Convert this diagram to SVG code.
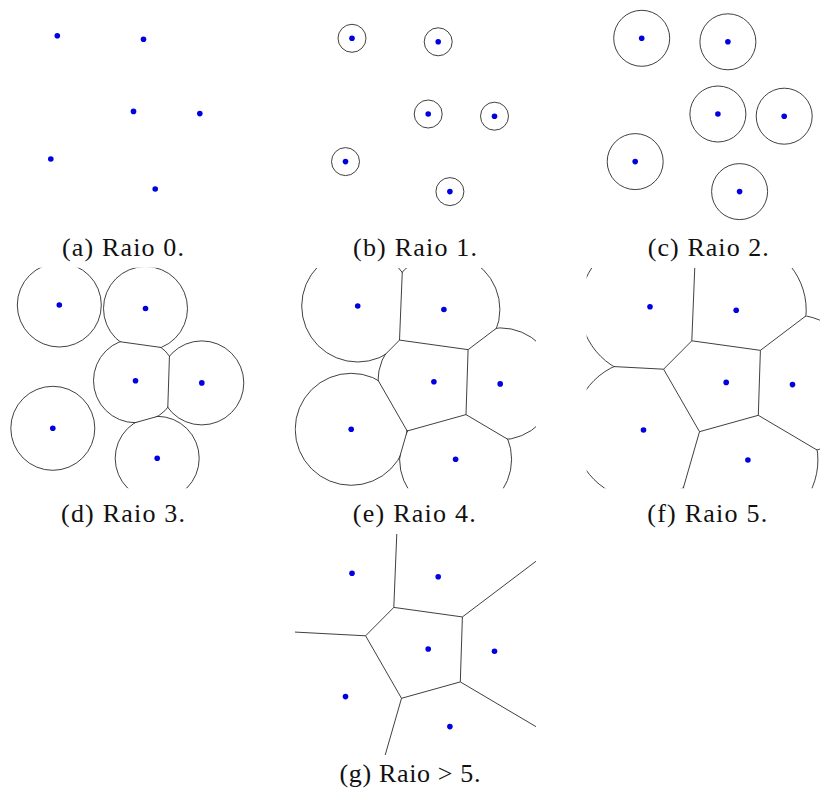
<svg xmlns="http://www.w3.org/2000/svg" xmlns:xlink="http://www.w3.org/1999/xlink" width="820" height="795" viewBox="0 0 820 795">
<style>
.ring{fill:none;stroke:#2a2a2a;stroke-width:0.9}
.edge{fill:none;stroke:#2a2a2a;stroke-width:0.9}
.site{fill:#0000e0}
.cap{font-family:"Liberation Serif","Times New Roman",serif;font-size:26px;fill:#111;text-anchor:middle}
</style>
<defs>
<clipPath id="cellA"><polygon points="41.8,34.1 13.6,62.5 -286,46.7 -286,-265.7 54,-265.7"/></clipPath>
<clipPath id="cellB"><polygon points="41.8,34.1 54,-265.7 349.6,-265.7 349.6,-137.4 110.4,43.65"/></clipPath>
<clipPath id="cellC"><polygon points="41.8,34.1 110.4,43.65 108.3,108.6 49.5,125 13.6,62.5"/></clipPath>
<clipPath id="cellD"><polygon points="110.4,43.65 349.6,-137.4 366.5,261.3 108.3,108.6"/></clipPath>
<clipPath id="cellE"><polygon points="49.5,125 -33.4,413.4 -286,413.4 -286,46.7 13.6,62.5"/></clipPath>
<clipPath id="cellF"><polygon points="108.3,108.6 366.5,261.3 -33.4,413.4 49.5,125"/></clipPath>
<clipPath id="disk42"><circle cx="0" cy="0" r="42"/><circle cx="86.2" cy="3.5" r="42"/><circle cx="76.2" cy="75.7" r="42"/><circle cx="142.5" cy="77.9" r="42"/><circle cx="-6.5" cy="123.3" r="42"/><circle cx="97.9" cy="153.3" r="42"/></clipPath>
<clipPath id="disk56"><circle cx="0" cy="0" r="56"/><circle cx="86.2" cy="3.5" r="56"/><circle cx="76.2" cy="75.7" r="56"/><circle cx="142.5" cy="77.9" r="56"/><circle cx="-6.5" cy="123.3" r="56"/><circle cx="97.9" cy="153.3" r="56"/></clipPath>
<clipPath id="disk70"><circle cx="0" cy="0" r="70"/><circle cx="86.2" cy="3.5" r="70"/><circle cx="76.2" cy="75.7" r="70"/><circle cx="142.5" cy="77.9" r="70"/><circle cx="-6.5" cy="123.3" r="70"/><circle cx="97.9" cy="153.3" r="70"/></clipPath>
<clipPath id="clipD"><rect x="0" y="267.7" width="250" height="220.6"/></clipPath>
<clipPath id="clipE"><rect x="294.5" y="268" width="241.5" height="220.3"/></clipPath>
<clipPath id="clipF"><rect x="586.7" y="268" width="233.3" height="220.3"/></clipPath>
<clipPath id="clipG"><rect x="295" y="534" width="241" height="221"/></clipPath>
<g id="sites">
<circle class="site" cx="0" cy="0" r="2.8"/>
<circle class="site" cx="86.2" cy="3.5" r="2.8"/>
<circle class="site" cx="76.2" cy="75.7" r="2.8"/>
<circle class="site" cx="142.5" cy="77.9" r="2.8"/>
<circle class="site" cx="-6.5" cy="123.3" r="2.8"/>
<circle class="site" cx="97.9" cy="153.3" r="2.8"/>
</g>
<path id="voronoi" class="edge" d="M54,-265.7 L41.8,34.1 L13.6,62.5 L-286,46.7 M41.8,34.1 L110.4,43.65 L349.6,-137.4 M110.4,43.65 L108.3,108.6 L366.5,261.3 M108.3,108.6 L49.5,125 L-33.4,413.4 M49.5,125 L13.6,62.5"/>
</defs>

<g id="panel-a">
<g transform="translate(57.3,35.7)"><use xlink:href="#sites"/></g>
<text class="cap" x="123" y="256" textLength="122" lengthAdjust="spacing">(a) Raio 0.</text>
</g>

<g id="panel-b">
<g transform="translate(352,38.3)">
<circle class="ring" cx="0" cy="0" r="14"/><circle class="ring" cx="86.2" cy="3.5" r="14"/><circle class="ring" cx="76.2" cy="75.7" r="14"/><circle class="ring" cx="142.5" cy="77.9" r="14"/><circle class="ring" cx="-6.5" cy="123.3" r="14"/><circle class="ring" cx="97.9" cy="153.3" r="14"/>
<use xlink:href="#sites"/>
</g>
<text class="cap" x="415" y="256" textLength="124" lengthAdjust="spacing">(b) Raio 1.</text>
</g>

<g id="panel-c">
<g transform="translate(641.7,38.3)">
<circle class="ring" cx="0" cy="0" r="28"/><circle class="ring" cx="86.2" cy="3.5" r="28"/><circle class="ring" cx="76.2" cy="75.7" r="28"/><circle class="ring" cx="142.5" cy="77.9" r="28"/><circle class="ring" cx="-6.5" cy="123.3" r="28"/><circle class="ring" cx="97.9" cy="153.3" r="28"/>
<use xlink:href="#sites"/>
</g>
<text class="cap" x="708.3" y="256" textLength="121" lengthAdjust="spacing">(c) Raio 2.</text>
</g>

<g id="panel-d">
<g clip-path="url(#clipD)">
<g transform="translate(59.3,305)">
<circle class="ring" cx="0" cy="0" r="42" clip-path="url(#cellA)"/>
<circle class="ring" cx="86.2" cy="3.5" r="42" clip-path="url(#cellB)"/>
<circle class="ring" cx="76.2" cy="75.7" r="42" clip-path="url(#cellC)"/>
<circle class="ring" cx="142.5" cy="77.9" r="42" clip-path="url(#cellD)"/>
<circle class="ring" cx="-6.5" cy="123.3" r="42" clip-path="url(#cellE)"/>
<circle class="ring" cx="97.9" cy="153.3" r="42" clip-path="url(#cellF)"/>
<g clip-path="url(#disk42)"><use xlink:href="#voronoi"/></g>
<use xlink:href="#sites"/>
</g>
</g>
<text class="cap" x="123" y="521.5" textLength="124" lengthAdjust="spacing">(d) Raio 3.</text>
</g>

<g id="panel-e">
<g clip-path="url(#clipE)">
<g transform="translate(357.7,306)">
<circle class="ring" cx="0" cy="0" r="56" clip-path="url(#cellA)"/>
<circle class="ring" cx="86.2" cy="3.5" r="56" clip-path="url(#cellB)"/>
<circle class="ring" cx="76.2" cy="75.7" r="56" clip-path="url(#cellC)"/>
<circle class="ring" cx="142.5" cy="77.9" r="56" clip-path="url(#cellD)"/>
<circle class="ring" cx="-6.5" cy="123.3" r="56" clip-path="url(#cellE)"/>
<circle class="ring" cx="97.9" cy="153.3" r="56" clip-path="url(#cellF)"/>
<g clip-path="url(#disk56)"><use xlink:href="#voronoi"/></g>
<use xlink:href="#sites"/>
</g>
</g>
<text class="cap" x="414.3" y="521.5" textLength="123" lengthAdjust="spacing">(e) Raio 4.</text>
</g>

<g id="panel-f">
<g clip-path="url(#clipF)">
<g transform="translate(650,306.7)">
<circle class="ring" cx="0" cy="0" r="70" clip-path="url(#cellA)"/>
<circle class="ring" cx="86.2" cy="3.5" r="70" clip-path="url(#cellB)"/>
<circle class="ring" cx="76.2" cy="75.7" r="70" clip-path="url(#cellC)"/>
<circle class="ring" cx="142.5" cy="77.9" r="70" clip-path="url(#cellD)"/>
<circle class="ring" cx="-6.5" cy="123.3" r="70" clip-path="url(#cellE)"/>
<circle class="ring" cx="97.9" cy="153.3" r="70" clip-path="url(#cellF)"/>
<g clip-path="url(#disk70)"><use xlink:href="#voronoi"/></g>
<use xlink:href="#sites"/>
</g>
</g>
<text class="cap" x="707.3" y="521.5" textLength="120" lengthAdjust="spacing">(f) Raio 5.</text>
</g>

<g id="panel-g">
<g clip-path="url(#clipG)">
<g transform="translate(352,573.3)">
<use xlink:href="#voronoi"/>
<use xlink:href="#sites"/>
</g>
</g>
<text class="cap" x="410" y="782" textLength="141" lengthAdjust="spacing">(g) Raio &gt; 5.</text>
</g>
</svg>
